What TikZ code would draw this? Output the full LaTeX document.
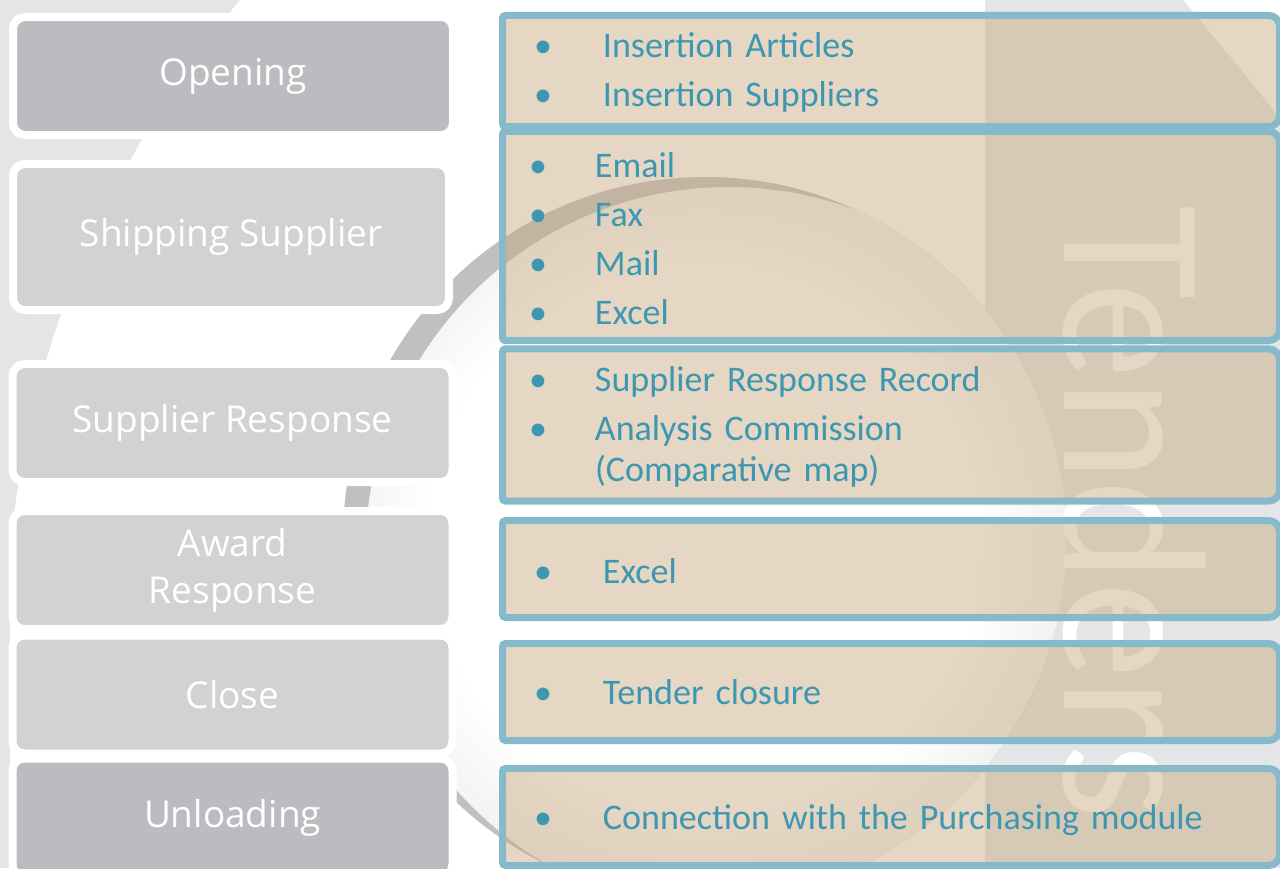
\documentclass[tikz,border=0pt]{standalone}
\usepackage{fontspec}
\usepackage{graphicx}
\newfontfamily\sfont{Open Sans}
\newfontfamily\tfont{Carlito}
\pgfdeclarelayer{back}
\pgfdeclarelayer{mid}
\pgfsetlayers{back,mid,main}
\definecolor{pagegray}{HTML}{E4E5E7}
\definecolor{arcgray}{HTML}{C0C0C0}
\definecolor{stepdark}{HTML}{BBBCC0}
\definecolor{steplight}{HTML}{D1D2D4}
\definecolor{sand}{HTML}{C7A87D}
\definecolor{tealline}{HTML}{86BACA}
\definecolor{tealtext}{HTML}{3E97B1}
\pgfdeclareradialshading{glow}{\pgfpointorigin}{color(0bp)=(white);
  color(19bp)=(white); color(25bp)=(pagegray!50); color(50bp)=(pagegray!50)}
\newcommand\blist[3][-1.5pt]{\raisebox{#1}[\height][\depth]{%
  \begin{tabular}{@{}p{#2}@{}l@{}}#3\end{tabular}}}

\begin{document}
\begin{tikzpicture}[x=0.5pt, y=-0.5pt,
    stepbox/.style={draw=white, line width=4pt, rounded corners=6pt,
                    minimum width=220pt, minimum height=59pt, align=center,
                    text=white, font=\sfont\fontsize{18.5}{23.5}\selectfont},
    listbox/.style={anchor=west, outer sep=0pt, minimum width=388.5pt,
                    inner xsep=15.75pt, text width=357pt, align=left,
                    text=tealtext, font=\tfont\fontsize{18}{24.5}\selectfont},
    boxline/.style={draw=tealline, line width=3.5pt, fill=sand, fill opacity=.46}
  ]
  \useasboundingbox (0,0) rectangle (1280,868);
  \begin{pgfonlayer}{back}
    \fill[white] (0,0) rectangle (1280,868);
    % grey backdrop, left and right
    \fill[pagegray] (0,0) -- (240,0) .. controls (130,130) and (25,330) .. (10,560)
      -- (10,868) -- (0,868) -- cycle;
    \fill[pagegray] (985,0) -- (1183,0) .. controls (1225,50) .. (1285,125)
      -- (1285,868) -- (985,868) -- cycle;
    % crescent
    \begin{scope}
      \clip (705,539) circle[radius=181pt];
      \shade[shading=glow] (705,539) circle[radius=181pt];
      \fill[arcgray, even odd rule] (705,539) circle[radius=181pt]
        (728.6,550) circle[radius=181.5pt];
    \end{scope}
    \node[rotate=-90, anchor=base west, inner sep=0pt, text=white,
          font=\tfont\fontsize{102}{102}\selectfont] (tenders) at (1064,205)
      {\scalebox{.95}[1]{Tenders}};
  \end{pgfonlayer}

  \node[stepbox, fill=stepdark] (open) at (233,76) {Opening};
  \node[stepbox, fill=steplight, minimum width=218pt, minimum height=73pt]
    (ship) at (231,237) {Shipping Supplier};
  \node[stepbox, fill=steplight] (resp) at (232.5,423) {Supplier Response};
  \node[stepbox, fill=steplight] (award) at (232.5,570) {Award\\Response};
  \node[stepbox, fill=steplight] (close) at (232.5,694.5) {Close};
  \node[stepbox, fill=stepdark] (unload) at (232.5,817.5) {Unloading};

  \node[listbox, minimum height=48.5pt] (b1) at (502.5,71)
    {\blist[-0.5pt]{34.5pt}{\textbullet & Insertion Articles\\
                    \textbullet & Insertion Suppliers}};
  \node[listbox, minimum height=104.5pt, inner xsep=13.25pt, text width=362pt]
    (b2) at (502.5,236)
    {\blist[-2.5pt]{33pt}{\textbullet & Email\\ \textbullet & Fax\\
                  \textbullet & Mail\\ \textbullet & Excel}};
  \node[listbox, minimum height=72.5pt, inner xsep=13.25pt, text width=362pt]
    (b3) at (502.5,425)
    {\blist[-1pt]{33pt}{\textbullet & Supplier Response Record\\
                  \textbullet & Analysis Commission\\[-4pt]
                              & (Comparative map)}};
  \node[listbox, minimum height=48.5pt] (b4) at (502.5,569)
    {\blist[-2.5pt]{34.5pt}{\textbullet & Excel}};
  \node[listbox, minimum height=48.5pt] (b5) at (502.5,692)
    {\blist{34.5pt}{\textbullet & Tender closure}};
  \node[listbox, minimum height=48.5pt] (b6) at (502.5,817)
    {\blist{34.5pt}{\textbullet & Connection with the Purchasing module}};

  \begin{pgfonlayer}{mid}
    \foreach \i in {1,...,6}
      \path[boxline] (b\i.west) [rounded corners=1.5pt] -- (b\i.north west)
        -- (b\i.north) [rounded corners=5.5pt] -- (b\i.north east)
        -- (b\i.south east) -- (b\i.south) [rounded corners=1.5pt]
        -- (b\i.south west) -- cycle;
  \end{pgfonlayer}
\end{tikzpicture}
\end{document}
